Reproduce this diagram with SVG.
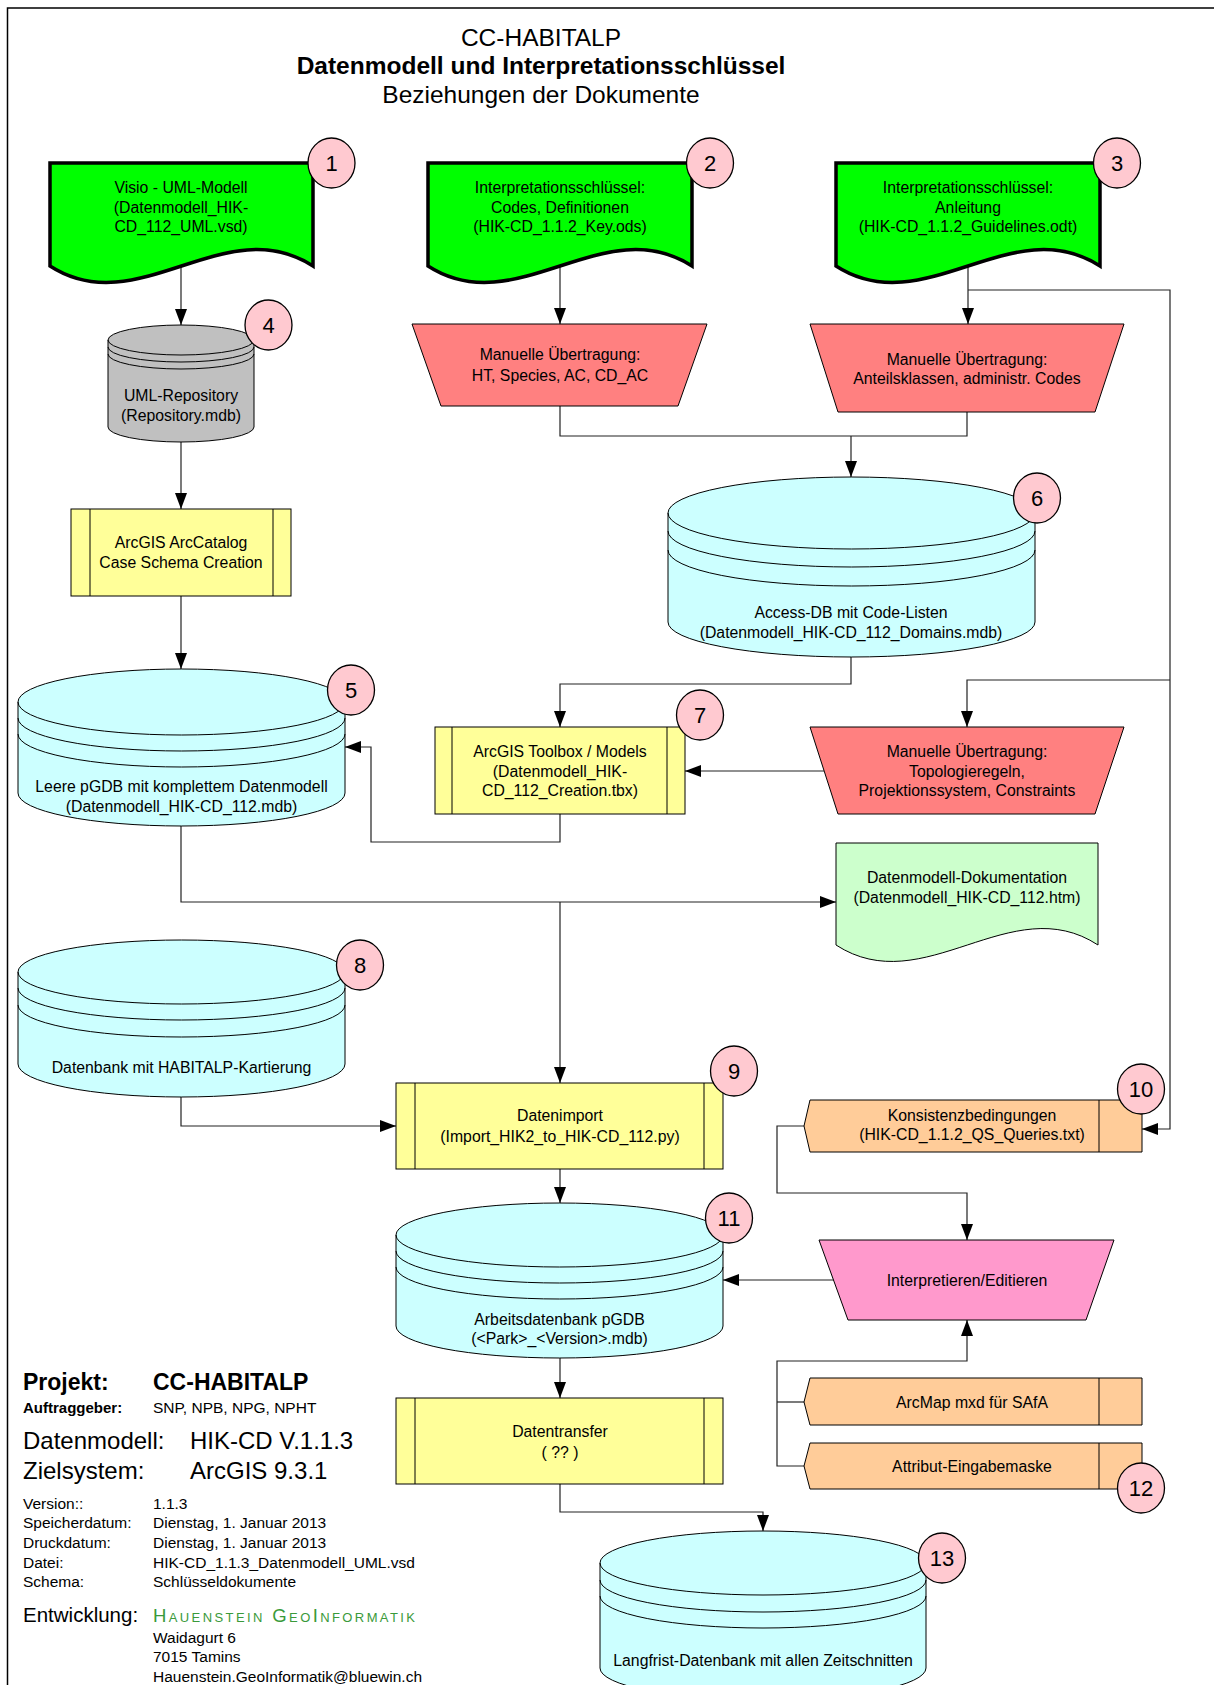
<svg xmlns="http://www.w3.org/2000/svg" width="1214" height="1685" viewBox="0 0 1214 1685">
<style>
text{font-family:"Liberation Sans",Arial,sans-serif;fill:#000}
.t{font-size:15.8px;text-anchor:middle}
.n{font-size:22px;text-anchor:middle}
.ttl{font-size:24.5px;text-anchor:middle}
.badge{fill:#FFC9D0;stroke:#000;stroke-width:1.3}
.doc{fill:#00FF00;stroke:#000;stroke-width:3.5;stroke-linejoin:miter}
.doc2{fill:#CCFFCC;stroke:#000;stroke-width:1}
.db{fill:#CCFFFF;stroke:#000;stroke-width:1}
.dbg{fill:#C0C0C0;stroke:#000;stroke-width:1}
.band{fill:none;stroke:#000;stroke-width:1}
.box{fill:#FFFF99;stroke:#000;stroke-width:1}
.red{fill:#FF8080;stroke:#000;stroke-width:1}
.pink{fill:#FF99CC;stroke:#000;stroke-width:1}
.org{fill:#FFCC99;stroke:#000;stroke-width:1}
.c{fill:none;stroke:#222;stroke-width:1.2}
.ca{fill:none;stroke:#222;stroke-width:1.2;marker-end:url(#ah)}
.info{font-size:15.5px}
</style>
<defs>
<marker id="ah" markerUnits="userSpaceOnUse" markerWidth="16" markerHeight="12" refX="16" refY="6" orient="auto">
<path d="M0,0 L16,6 L0,12 Z" fill="#000"/>
</marker>
</defs>
<rect x="7.5" y="8" width="1260" height="1740" fill="none" stroke="#000" stroke-width="1.5"/>

<g id="title">
<text class="ttl" x="541" y="46">CC-HABITALP</text>
<text class="ttl" x="541" y="74" font-weight="bold">Datenmodell und Interpretationsschlüssel</text>
<text class="ttl" x="541" y="103">Beziehungen der Dokumente</text>
</g>

<g id="connectors">
<path class="ca" d="M181,266 V325"/>
<path class="ca" d="M181,442 V509"/>
<path class="ca" d="M181,596 V669"/>
<path class="ca" d="M560,267 V324"/>
<path class="ca" d="M968,266 V324"/>
<path class="ca" d="M968,290 H1170 V1129 H1142"/>
<path class="ca" d="M1170,680 H967 V727"/>
<path class="c" d="M560,406 V436 H967 V412"/>
<path class="ca" d="M851,436 V477"/>
<path class="ca" d="M851,657 V684 H560 V727"/>
<path class="ca" d="M824,771 H685"/>
<path class="ca" d="M560,814 V842 H371 V747 H345"/>
<path class="ca" d="M181,826 V902 H836"/>
<path class="ca" d="M560,902 V1083"/>
<path class="ca" d="M181,1097 V1126 H396"/>
<path class="ca" d="M560,1169 V1203"/>
<path class="ca" d="M804,1126 H777 V1193 H967 V1240"/>
<path class="ca" d="M834,1280 H723"/>
<path class="ca" d="M804,1466 H777 V1361 H967 V1320"/>
<path class="c" d="M804,1402 H777"/>
<path class="ca" d="M560,1358 V1398"/>
<path class="ca" d="M560,1484 V1512 H763 V1531"/>
</g>

<g id="node1">
<path class="doc" d="M50,163 H313 V266 C225,209 138,323 50,266 Z"/>
<text class="t" x="181" y="193">Visio - UML-Modell</text>
<text class="t" x="181" y="213">(Datenmodell_HIK-</text>
<text class="t" x="181" y="232">CD_112_UML.vsd)</text>
<ellipse class="badge" cx="331.5" cy="163" rx="23.5" ry="25"/>
<text class="n" x="331.5" y="171">1</text>
</g>

<g id="node2">
<path class="doc" d="M428,163 H692 V266 C604,209 516,323 428,266 Z"/>
<text class="t" x="560" y="193">Interpretationsschlüssel:</text>
<text class="t" x="560" y="213">Codes, Definitionen</text>
<text class="t" x="560" y="232">(HIK-CD_1.1.2_Key.ods)</text>
<ellipse class="badge" cx="710" cy="163" rx="23.5" ry="25"/>
<text class="n" x="710" y="171">2</text>
</g>

<g id="node3">
<path class="doc" d="M836,163 H1100 V266 C1012,209 924,323 836,266 Z"/>
<text class="t" x="968" y="193">Interpretationsschlüssel:</text>
<text class="t" x="968" y="213">Anleitung</text>
<text class="t" x="968" y="232">(HIK-CD_1.1.2_Guidelines.odt)</text>
<ellipse class="badge" cx="1117" cy="163" rx="23.5" ry="25"/>
<text class="n" x="1117" y="171">3</text>
</g>

<g id="node4">
<path class="dbg" d="M108,340 A73,15 0 0 1 254,340 V427 A73,15 0 0 1 108,427 Z"/>
<path class="band" d="M108,340 A73,15 0 0 0 254,340 M108,347 A73,15 0 0 0 254,347 M108,354 A73,15 0 0 0 254,354"/>
<text class="t" x="181" y="400.5">UML-Repository</text>
<text class="t" x="181" y="420.5">(Repository.mdb)</text>
<ellipse class="badge" cx="268.5" cy="325" rx="23.5" ry="25"/>
<text class="n" x="268.5" y="333">4</text>
</g>

<g id="nodeM1">
<polygon class="red" points="412,324 707,324 678,406 441,406"/>
<text class="t" x="560" y="359.5">Manuelle Übertragung:</text>
<text class="t" x="560" y="380.5">HT, Species, AC, CD_AC</text>
</g>

<g id="nodeM2">
<polygon class="red" points="810,324 1124,324 1095,412 838,412"/>
<text class="t" x="967" y="364.5">Manuelle Übertragung:</text>
<text class="t" x="967" y="383.5">Anteilsklassen, administr. Codes</text>
</g>

<g id="nodeArcCatalog">
<rect class="box" x="71" y="509" width="220" height="87"/>
<path class="band" d="M90,509 V596 M273,509 V596"/>
<text class="t" x="181" y="547.5">ArcGIS ArcCatalog</text>
<text class="t" x="181" y="567.5">Case Schema Creation</text>
</g>

<g id="node6">
<path class="db" d="M668,513 A183.5,36 0 0 1 1035,513 V622 A183.5,35 0 0 1 668,622 Z"/>
<path class="band" d="M668,513 A183.5,36 0 0 0 1035,513 M668,531 A183.5,36 0 0 0 1035,531 M668,550 A183.5,36 0 0 0 1035,550"/>
<text class="t" x="851" y="617.5">Access-DB mit Code-Listen</text>
<text class="t" x="851" y="637.5">(Datenmodell_HIK-CD_112_Domains.mdb)</text>
<ellipse class="badge" cx="1037" cy="498" rx="23.5" ry="25"/>
<text class="n" x="1037" y="506">6</text>
</g>

<g id="node5">
<path class="db" d="M18,702 A163.5,33 0 0 1 345,702 V793 A163.5,33 0 0 1 18,793 Z"/>
<path class="band" d="M18,702 A163.5,33 0 0 0 345,702 M18,718 A163.5,33 0 0 0 345,718 M18,734 A163.5,33 0 0 0 345,734"/>
<text class="t" x="181.5" y="791.5">Leere pGDB mit komplettem Datenmodell</text>
<text class="t" x="181.5" y="811.5">(Datenmodell_HIK-CD_112.mdb)</text>
<ellipse class="badge" cx="351" cy="690" rx="23.5" ry="25"/>
<text class="n" x="351" y="698">5</text>
</g>

<g id="node7">
<rect class="box" x="435" y="727" width="250" height="87"/>
<path class="band" d="M452,727 V814 M667,727 V814"/>
<text class="t" x="560" y="756.5">ArcGIS Toolbox / Models</text>
<text class="t" x="560" y="776.5">(Datenmodell_HIK-</text>
<text class="t" x="560" y="795.5">CD_112_Creation.tbx)</text>
<ellipse class="badge" cx="700" cy="715" rx="23.5" ry="25"/>
<text class="n" x="700" y="723">7</text>
</g>

<g id="nodeM3">
<polygon class="red" points="810,727 1124,727 1095,814 838,814"/>
<text class="t" x="967" y="756.5">Manuelle Übertragung:</text>
<text class="t" x="967" y="776.5">Topologieregeln,</text>
<text class="t" x="967" y="795.5">Projektionssystem, Constraints</text>
</g>

<g id="nodeDoku">
<path class="doc2" d="M836,843 H1098 V945 C1011,888 924,1002 836,945 Z"/>
<text class="t" x="967" y="882.5">Datenmodell-Dokumentation</text>
<text class="t" x="967" y="902.5">(Datenmodell_HIK-CD_112.htm)</text>
</g>

<g id="node8">
<path class="db" d="M18,972 A163.5,32 0 0 1 345,972 V1064 A163.5,33 0 0 1 18,1064 Z"/>
<path class="band" d="M18,972 A163.5,32 0 0 0 345,972 M18,988 A163.5,32 0 0 0 345,988 M18,1005 A163.5,32 0 0 0 345,1005"/>
<text class="t" x="181.5" y="1072.5">Datenbank mit HABITALP-Kartierung</text>
<ellipse class="badge" cx="360" cy="965" rx="23.5" ry="25"/>
<text class="n" x="360" y="973">8</text>
</g>

<g id="node9">
<rect class="box" x="396" y="1083" width="327" height="86"/>
<path class="band" d="M415,1083 V1169 M704,1083 V1169"/>
<text class="t" x="560" y="1120.5">Datenimport</text>
<text class="t" x="560" y="1141.5">(Import_HIK2_to_HIK-CD_112.py)</text>
<ellipse class="badge" cx="734" cy="1071" rx="23.5" ry="25"/>
<text class="n" x="734" y="1079">9</text>
</g>

<g id="node10">
<polygon class="org" points="810,1100 1142,1100 1142,1152 810,1152 804,1126"/>
<path class="band" d="M1099,1100 V1152"/>
<text class="t" x="972" y="1121">Konsistenzbedingungen</text>
<text class="t" x="972" y="1140">(HIK-CD_1.1.2_QS_Queries.txt)</text>
<ellipse class="badge" cx="1141" cy="1089" rx="23.5" ry="25"/>
<text class="n" x="1141" y="1097">10</text>
</g>

<g id="node11">
<path class="db" d="M396,1235 A163.5,32 0 0 1 723,1235 V1326 A163.5,32 0 0 1 396,1326 Z"/>
<path class="band" d="M396,1235 A163.5,32 0 0 0 723,1235 M396,1251 A163.5,32 0 0 0 723,1251 M396,1267 A163.5,32 0 0 0 723,1267"/>
<text class="t" x="559.5" y="1324.5">Arbeitsdatenbank pGDB</text>
<text class="t" x="559.5" y="1343.5">(&lt;Park&gt;_&lt;Version&gt;.mdb)</text>
<ellipse class="badge" cx="729" cy="1218" rx="23.5" ry="25"/>
<text class="n" x="729" y="1226">11</text>
</g>

<g id="nodeInterp">
<polygon class="pink" points="819,1240 1114,1240 1086,1320 848,1320"/>
<text class="t" x="967" y="1285.5">Interpretieren/Editieren</text>
</g>

<g id="nodeArcMap">
<polygon class="org" points="810,1378 1142,1378 1142,1425 810,1425 804,1402"/>
<path class="band" d="M1099,1378 V1425"/>
<text class="t" x="972" y="1407.5">ArcMap mxd für SAfA</text>
</g>

<g id="node12">
<polygon class="org" points="810,1443 1142,1443 1142,1489 810,1489 804,1466"/>
<path class="band" d="M1099,1443 V1489"/>
<text class="t" x="972" y="1471.5">Attribut-Eingabemaske</text>
<ellipse class="badge" cx="1141" cy="1488" rx="23.5" ry="25"/>
<text class="n" x="1141" y="1496">12</text>
</g>

<g id="nodeTransfer">
<rect class="box" x="396" y="1398" width="327" height="86"/>
<path class="band" d="M415,1398 V1484 M704,1398 V1484"/>
<text class="t" x="560" y="1436.5">Datentransfer</text>
<text class="t" x="560" y="1457.5">( ?? )</text>
</g>

<g id="node13">
<path class="db" d="M600,1563 A163,32 0 0 1 926,1563 V1668 A163,32 0 0 1 600,1668 Z"/>
<path class="band" d="M600,1563 A163,32 0 0 0 926,1563 M600,1580 A163,32 0 0 0 926,1580 M600,1596 A163,32 0 0 0 926,1596"/>
<text class="t" x="763" y="1665.5">Langfrist-Datenbank mit allen Zeitschnitten</text>
<ellipse class="badge" cx="942" cy="1558" rx="23.5" ry="25"/>
<text class="n" x="942" y="1566">13</text>
</g>

<g id="info">
<text x="23" y="1390" font-size="23" font-weight="bold">Projekt:</text>
<text x="153" y="1390" font-size="23" font-weight="bold">CC-HABITALP</text>
<text x="23" y="1413" font-size="15" font-weight="bold">Auftraggeber:</text>
<text x="153" y="1413" font-size="15.5">SNP, NPB, NPG, NPHT</text>
<text x="23" y="1449" font-size="24">Datenmodell:</text>
<text x="190" y="1449" font-size="24">HIK-CD V.1.1.3</text>
<text x="23" y="1479" font-size="24">Zielsystem:</text>
<text x="190" y="1479" font-size="24">ArcGIS 9.3.1</text>
<text class="info" x="23" y="1509">Version::</text>
<text class="info" x="153" y="1509">1.1.3</text>
<text class="info" x="23" y="1528">Speicherdatum:</text>
<text class="info" x="153" y="1528">Dienstag, 1. Januar 2013</text>
<text class="info" x="23" y="1548">Druckdatum:</text>
<text class="info" x="153" y="1548">Dienstag, 1. Januar 2013</text>
<text class="info" x="23" y="1568">Datei:</text>
<text class="info" x="153" y="1568">HIK-CD_1.1.3_Datenmodell_UML.vsd</text>
<text class="info" x="23" y="1587">Schema:</text>
<text class="info" x="153" y="1587">Schlüsseldokumente</text>
<text x="23" y="1622" font-size="20.5">Entwicklung:</text>
<text x="153" y="1622" font-size="18.5" font-variant="small-caps" letter-spacing="2.4" style="fill:#3A9A3A">Hauenstein GeoInformatik</text>
<text class="info" x="153" y="1643">Waidagurt 6</text>
<text class="info" x="153" y="1662">7015 Tamins</text>
<text class="info" x="153" y="1682">Hauenstein.GeoInformatik@bluewin.ch</text>
</g>
</svg>
